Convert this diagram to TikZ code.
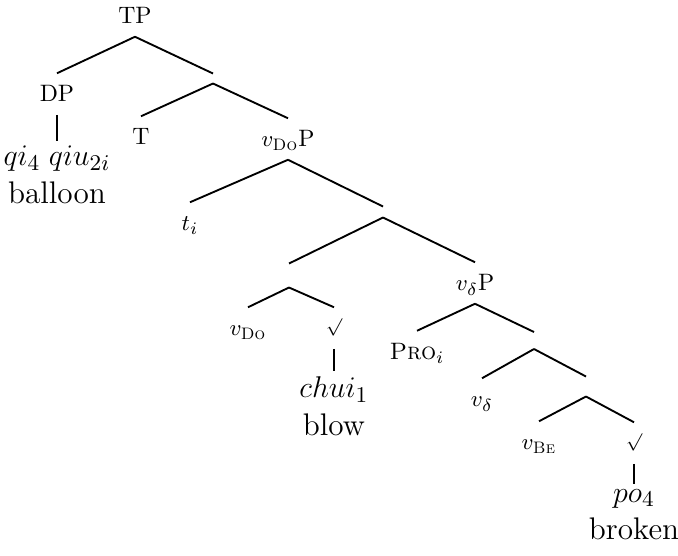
\documentclass[tikz,border=0pt]{standalone}
\usepackage{amsmath}
\usetikzlibrary{positioning}
\newcommand{\rootsym}{{\fontsize{7.5}{8}\selectfont\raisebox{\depth}{$\surd$}}}

\begin{document}
\begin{tikzpicture}[
    x=0.4pt, y=-0.4pt,
    cat/.style={inner xsep=1pt, inner ysep=5pt, text height=6.2pt, text depth=0pt, font=\fontsize{9.5}{11}\selectfont},
    junction/.style={inner sep=0pt, minimum width=0pt, minimum height=#1},
    junction/.default=4pt,
    word/.style={inner xsep=1pt, inner ysep=2pt, align=center, font=\fontsize{12.5}{15}\selectfont},
    branch/.style={line width=0.75pt}
  ]
    \useasboundingbox (0,0) rectangle (678,555);
    \node[cat] (tp) at (135,16) {TP};
    \node[cat] (dp) at (57,94) {DP};
    \node[junction=3.6pt] (n1) at (213,78.5) {};
    \node[cat] (t) at (141,137) {T};
    \node[cat] (vdop) at (288,139) {$v_{\textsc{Do}}$P};
    \node[junction=4pt] (n2) at (383,212) {};
    \node[cat] (trace) at (190,223) {$t_i$};
    \node[junction=9.2pt] (n3) at (289,275.5) {};
    \node[cat] (vdeltap) at (475,283) {$v_\delta$P};
    \node[cat] (vdo) at (248,328) {$v_{\textsc{Do}}$};
    \node[cat] (root1) at (334,328) {\rootsym};
    \node[cat] (pro) at (417,351.5) {\textsc{Pro}$_i$};
    \node[junction=6.4pt] (n4) at (534,340.5) {};
    \node[cat] (vdelta) at (482,399) {$v_\delta$};
    \node[junction=7.6pt] (n5) at (586,386.5) {};
    \node[cat] (vbe) at (539,442) {$v_{\textsc{Be}}$};
    \node[cat] (root2) at (634,443) {\rootsym};
    \node[word, below=10.4pt of dp] (qi) {$qi_4\;qiu_{2i}$\\balloon};
    \node[word, below=9pt of root1] (chui) {$chui_1$\\blow};
    \node[word, below=8pt of root2] (po) {$po_4$\\broken};

    \draw[branch] (tp.south) -- (dp.north);
    \draw[branch] (tp.south) -- (n1.north);
    \draw[branch] (n1.south) -- (t.north);
    \draw[branch] (n1.south) -- (vdop.north);
    \draw[branch] (vdop.south) -- (trace.north);
    \draw[branch] (vdop.south) -- (n2.north);
    \draw[branch] (n2.south) -- (n3.north);
    \draw[branch] (n2.south) -- (vdeltap.north);
    \draw[branch] (n3.south) -- (vdo.north);
    \draw[branch] (n3.south) -- (root1.north);
    \draw[branch] (vdeltap.south) -- (pro.north);
    \draw[branch] (vdeltap.south) -- (n4.north);
    \draw[branch] (n4.south) -- (vdelta.north);
    \draw[branch] (n4.south) -- (n5.north);
    \draw[branch] (n5.south) -- (vbe.north);
    \draw[branch] (n5.south) -- (root2.north);
    \draw[branch] (dp.south) -- (qi.north);
    \draw[branch] (root1.south) -- (chui.north);
    \draw[branch] (root2.south) -- (po.north);
  \end{tikzpicture}
\end{document}
